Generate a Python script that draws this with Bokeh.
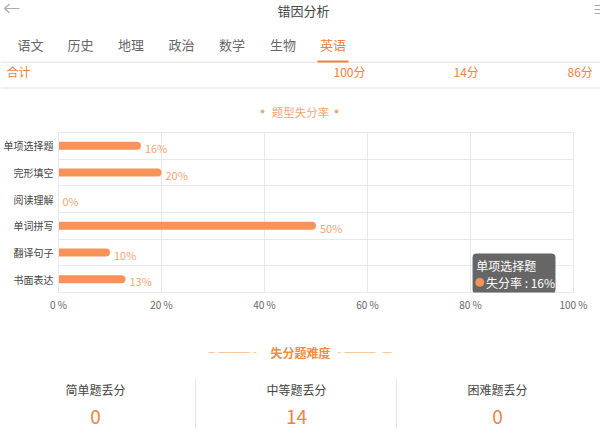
from bokeh.plotting import figure
from bokeh.layouts import column
from bokeh.models import (Range1d, FixedTicker, PrintfTickFormatter, ColumnDataSource,
                          BoxAnnotation, Label)
from bokeh.core.properties import value
from bokeh.embed import file_html
from bokeh.resources import INLINE

# ---------------- data ----------------
page_title = "错因分析"
tabs = ["语文", "历史", "地理", "政治", "数学", "生物", "英语"]
active_tab = "英语"
total_label = "合计"
total_values = ["100分", "14分", "86分"]
chart_title = "题型失分率"
categories = ["单项选择题", "完形填空", "阅读理解", "单词拼写", "翻译句子", "书面表达"]
loss_rate = [16, 20, 0, 50, 10, 13]
x_ticks = [0, 20, 40, 60, 80, 100]
tooltip_series = "失分率"
section_title = "失分题难度"
difficulty_labels = ["简单题丢分", "中等题丢分", "困难题丢分"]
difficulty_values = [0, 14, 0]

FONT = "Noto Sans CJK SC"
ORANGE = "#f0823f"
BAR = "#f7925a"
LABEL_ORANGE = "#f2a674"
GRID = "#e8e8e8"

W = 600


def blank(height, y0, y1):
    f = figure(width=W, height=height, x_range=Range1d(0, 600), y_range=Range1d(y1, y0),
               output_backend="svg", toolbar_location=None, min_border=0, frame_align=False)
    f.axis.visible = False
    f.grid.visible = False
    f.outline_line_color = None
    f.background_fill_color = "white"
    f.border_fill_color = "white"
    return f


# ---------------- header ----------------
top = blank(125, 0, 125)
top.text(x=[303], y=[10], text=[page_title], text_font=value(FONT), text_font_size="13px",
         text_color="#444444", text_align="center", text_baseline="middle")
# back arrow
top.segment(x0=[4, 4, 4], y0=[8, 8, 8], x1=[19, 9, 9], y1=[8, 3.5, 12.5],
            line_color="#aaaaaa", line_width=1.2)
# menu icon
top.segment(x0=[594, 594, 594], y0=[5, 9, 13], x1=[600, 600, 600], y1=[5, 9, 13],
            line_color="#aaaaaa", line_width=1.2)
tab_x = [30, 80, 130.5, 181, 231.5, 282.5, 332.5]
top.text(x=tab_x, y=[44] * len(tabs), text=tabs, text_font=value(FONT), text_font_size="13px",
         text_color=[ORANGE if t == active_tab else "#666666" for t in tabs],
         text_align="center", text_baseline="middle")
top.segment(x0=[0], y0=[61.7], x1=[600], y1=[61.7], line_color="#e2e2e2", line_width=1)
ai = tabs.index(active_tab)
top.segment(x0=[tab_x[ai] - 15.5], y0=[61], x1=[tab_x[ai] + 15.5], y1=[61], line_color=ORANGE, line_width=2)
top.text(x=[6], y=[71], text=[total_label], text_font=value(FONT), text_font_size="12px",
         text_color=ORANGE, text_align="left", text_baseline="middle")
top.text(x=[333, 453, 567], y=[71] * 3, text=total_values, text_font=value(FONT), text_font_size="12px",
         text_color=ORANGE, text_align="left", text_baseline="middle")
top.segment(x0=[0], y0=[87.5], x1=[600], y1=[87.5], line_color="#e2e2e2", line_width=1)
top.text(x=[300], y=[111], text=[chart_title], text_font=value(FONT), text_font_size="11.5px",
         text_color=LABEL_ORANGE, text_align="center", text_baseline="middle")
top.scatter(x=[262, 336], y=[111, 111], size=3, color=LABEL_ORANGE)

# ---------------- bar chart ----------------
n = len(categories)
centers = [i + 0.5 for i in range(n)]
src = ColumnDataSource(dict(y=centers, v=loss_rate, cat=categories,
                            lbl=[f"{v}%" for v in loss_rate]))

p = figure(width=W, height=195, x_range=Range1d(0, 100), y_range=Range1d(n, 0),
           output_backend="svg", toolbar_location=None, frame_align=False,
           min_border_left=57, min_border_right=27, min_border_top=7, min_border_bottom=28)
p.outline_line_color = GRID
p.background_fill_color = "white"
p.border_fill_color = "white"

p.xaxis.ticker = FixedTicker(ticks=x_ticks)
p.xaxis.formatter = PrintfTickFormatter(format="%d %%")
p.xaxis.axis_line_color = None
p.xaxis.major_tick_line_color = None
p.xaxis.minor_tick_line_color = None
p.xaxis.major_tick_out = 0
p.xaxis.major_tick_in = 0
p.xaxis.minor_tick_out = 0
p.xaxis.axis_label_standoff = 0
p.xaxis.major_label_standoff = 4
p.xaxis.major_label_text_font = FONT
p.xaxis.major_label_text_font_size = "10px"
p.xaxis.major_label_text_color = "#666666"

p.yaxis.ticker = FixedTicker(ticks=centers, minor_ticks=list(range(n + 1)))
p.yaxis.major_label_overrides = {c: cat for c, cat in zip(centers, categories)}
p.yaxis.axis_line_color = GRID
p.yaxis.major_tick_line_color = None
p.yaxis.minor_tick_line_color = None
p.yaxis.major_tick_out = 0
p.yaxis.major_tick_in = 0
p.yaxis.minor_tick_out = 0
p.yaxis.axis_label_standoff = 0
p.yaxis.major_label_standoff = 5
p.yaxis.major_label_text_font = FONT
p.yaxis.major_label_text_font_size = "10px"
p.yaxis.major_label_text_color = "#444444"

p.xgrid.grid_line_color = GRID
p.ygrid.grid_line_color = None
p.ygrid.minor_grid_line_color = GRID

p.hbar(y="y", left=0, right="v", height=0.3, source=src, fill_color=BAR, line_color=None,
       border_radius=(0, 4, 4, 0))
p.text(x="v", y="y", text="lbl", source=src, x_offset=4, y_offset=2,
       text_font=value(FONT), text_font_size="11px", text_color=LABEL_ORANGE,
       text_align="left", text_baseline="middle")

# static tooltip (hovered first category)
tip = BoxAnnotation(left=80.4, right=96.5, top=4.54, bottom=6.04, fill_color="#5e5e5e",
                    fill_alpha=0.95, line_color=None, border_radius=4)
p.add_layout(tip)
p.add_layout(Label(x=81.1, y=4.98, text=categories[0], text_font=FONT, text_font_size="12px",
                   text_color="white", text_baseline="middle"))
dot = p.scatter(x=[81.8], y=[5.62], size=8, color=BAR)
dot.level = "overlay"
p.add_layout(Label(x=83.0, y=5.62, text=f"{tooltip_series} : {loss_rate[0]}%", text_font=FONT,
                   text_font_size="12px", text_color="white", text_baseline="middle"))

# ---------------- footer ----------------
bot = blank(115, 320, 435)
bot.text(x=[300], y=[352], text=[section_title], text_font=value(FONT), text_font_size="12px",
         text_font_style="bold", text_color="#f28c3c", text_align="center", text_baseline="middle")
bot.segment(x0=[208, 218, 253, 337, 344, 382], y0=[352] * 6, x1=[214, 249, 256, 340, 375, 391],
            y1=[352] * 6, line_color="#f6c79c", line_width=1)
col_x = [95, 296, 497]
bot.text(x=col_x, y=[389] * 3, text=difficulty_labels, text_font=value(FONT), text_font_size="12px",
         text_color="#444444", text_align="center", text_baseline="middle")
bot.text(x=col_x, y=[416] * 3, text=[str(v) for v in difficulty_values], text_font=value(FONT),
         text_font_size="19px", text_color="#e8844a", text_align="center", text_baseline="middle")
bot.segment(x0=[195, 396], y0=[378, 378], x1=[195, 396], y1=[428, 428], line_color="#e6e6e6", line_width=1)

layout = column(top, p, bot, spacing=0)
open("out.html", "w").write(file_html(layout, INLINE))
